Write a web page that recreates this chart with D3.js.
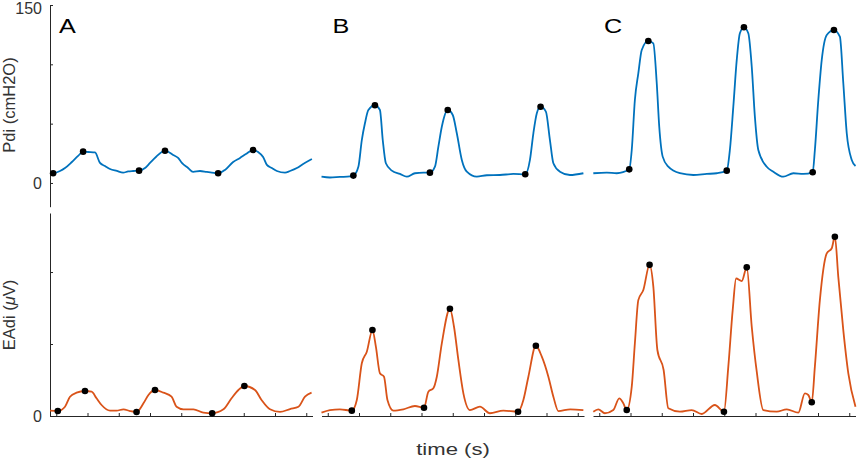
<!DOCTYPE html>
<html>
<head>
<meta charset="utf-8">
<script src="https://cdn.jsdelivr.net/npm/d3@7"></script>
<style>
    body { margin: 0; background: #fff; }
    svg { display: block; font-family: "Liberation Sans", Arial, sans-serif; }
    .axis path, .axis line { stroke: #262626; stroke-width: 1; }
    .axis text { fill: #333; font-size: 16px; }
</style>
</head>
<body>
<svg id="chart" width="861" height="464"></svg>
<script>
// ---- data: [time (s), value] ----
const panels = ["A", "B", "C"];
const timeTicks = [0, 1, 2, 3, 4, 5, 6, 7, 8];
const pdiTicks = [0, 50, 100, 150];
const pdiTickLabels = ["0", "", "", "150"];
const eadiTicks = [0, 10, 20];
const eadiTickLabels = ["0", "", ""];

const pdiA = [[-0.2,8.0],[-0.1,8.2],[0.12,10.1],[0.28,12.6],[0.5,17.7],[0.7,22.8],[0.86,26.4],[1.02,26.1],[1.24,25.7],
    [1.4,16.9],[1.56,14.3],[1.72,11.8],[1.94,10.1],[2.14,8.7],[2.3,9.7],[2.46,10.1],[2.65,10.4],[2.84,12.6],[3.0,16.9],
    [3.19,21.9],[3.48,27.2],[3.74,23.6],[3.9,21.1],[4.02,16.9],[4.22,12.6],[4.38,9.3],[4.6,10.1],[4.82,9.3],[4.98,8.8],
    [5.18,8.2],[5.4,11.0],[5.66,17.7],[5.88,21.1],[6.07,24.4],[6.3,27.8],[6.46,26.1],[6.62,21.9],[6.74,15.2],[6.9,12.6],
    [7.06,10.1],[7.32,8.7],[7.48,10.1],[7.7,12.6],[7.9,16.0],[8.18,20.2]];
const pdiB = [[-0.2,5.3],[0.07,4.6],[0.39,5.1],[0.71,5.5],[0.82,6.2],[0.98,13.7],[1.09,36.2],[1.19,50.3],[1.30,61.5],
    [1.51,65.5],[1.67,61.5],[1.76,36.2],[1.86,16.6],[2.05,10.4],[2.31,7.6],[2.53,5.3],[2.79,8.2],[3.06,8.7],[3.27,8.7],
    [3.43,13.7],[3.54,30.6],[3.65,47.4],[3.84,61.5],[4.0,57.3],[4.13,41.9],[4.29,19.4],[4.45,9.5],[4.77,5.3],[5.09,6.5],
    [5.51,6.7],[5.94,7.6],[6.32,7.3],[6.47,19.4],[6.58,41.9],[6.69,58.7],[6.81,64.3],[6.98,60.1],[7.11,36.2],[7.22,16.6],
    [7.43,9.5],[7.75,6.7],[8.18,8.2]];
const pdiC = [[-0.19,8.2],[0.24,8.7],[0.56,8.2],[0.96,11.5],[1.04,27.8],[1.14,69.9],[1.25,92.4],[1.36,112.1],[1.57,119.7],
    [1.73,117.7],[1.84,84.0],[1.92,47.4],[2.03,22.2],[2.21,13.7],[2.58,8.2],[3.01,6.7],[3.44,7.6],[3.76,8.2],[4.08,10.4],
    [4.18,27.8],[4.29,64.3],[4.40,103.7],[4.50,126.2],[4.63,131.2],[4.77,126.2],[4.88,98.0],[4.98,55.9],[5.09,27.8],
    [5.36,13.7],[5.57,9.5],[5.89,5.3],[6.21,8.2],[6.53,7.6],[6.83,9.0],[6.90,27.8],[7.01,69.9],[7.12,103.7],[7.28,124.7],
    [7.51,128.9],[7.70,123.3],[7.81,84.0],[7.92,41.9],[8.08,19.4],[8.2,14.3]];

const eadiA = [[-0.2,0.74],[0.05,0.69],[0.28,1.29],[0.44,2.68],[0.65,3.24],[0.92,3.47],[1.13,3.38],[1.29,2.46],[1.45,1.53],
    [1.72,0.74],[1.93,0.74],[2.15,0.93],[2.36,0.69],[2.57,0.56],[2.79,1.76],[2.95,2.92],[3.16,3.61],[3.43,3.24],[3.69,2.68],
    [3.85,1.29],[4.07,0.93],[4.39,0.93],[4.71,0.46],[4.99,0.38],[5.35,0.93],[5.61,2.46],[5.83,3.61],[6.02,4.17],[6.36,3.61],
    [6.57,2.22],[6.84,0.93],[7.16,0.56],[7.48,0.97],[7.75,1.29],[7.96,2.68],[8.17,3.24]];
const eadiB = [[-0.2,0.46],[0.07,0.83],[0.39,0.93],[0.77,0.74],[0.93,2.22],[1.09,7.32],[1.25,8.93],[1.43,11.94],[1.54,9.63],
    [1.67,5.93],[1.80,5.46],[1.91,2.22],[2.10,0.74],[2.42,0.93],[2.79,1.39],[3.08,1.15],[3.22,3.38],[3.38,3.85],[3.49,5.46],
    [3.65,10.1],[3.91,14.9],[4.04,12.4],[4.18,7.78],[4.34,3.15],[4.55,0.83],[4.87,1.29],[5.19,0.38],[5.62,0.74],[6.09,0.60],
    [6.26,2.22],[6.42,5.46],[6.66,9.76],[6.85,8.24],[7.06,5.46],[7.22,2.68],[7.38,0.69],[7.76,0.93],[8.18,0.83]];
const eadiC = [[-0.19,0.60],[-0.03,0.93],[0.18,0.38],[0.45,0.83],[0.64,2.46],[0.77,1.76],[0.88,0.83],[1.04,4.07],[1.14,10.1],
    [1.25,16.1],[1.41,17.5],[1.61,21.0],[1.73,18.0],[1.86,9.17],[2.06,6.39],[2.21,1.07],[2.58,0.60],[2.96,0.83],[3.28,0.28],
    [3.70,1.53],[3.99,0.60],[4.13,6.85],[4.27,14.7],[4.38,19.1],[4.56,18.75],[4.72,20.65],[4.88,12.4],[5.04,6.15],[5.25,0.83],
    [5.68,0.60],[6.00,0.93],[6.37,0.46],[6.58,3.15],[6.69,2.92],[6.80,1.90],[6.90,6.85],[7.06,16.1],[7.28,22.6],[7.44,23.3],
    [7.54,24.9],[7.65,19.3],[7.81,11.9],[7.97,5.93],[8.2,1.29]];

// onset / peak markers
const pdiDotsA = [[-0.1,8.2],[0.86,26.4],[2.65,10.4],[3.48,27.2],[5.18,8.2],[6.3,27.8]];
const pdiDotsB = [[0.82,6.2],[1.51,65.5],[3.27,8.7],[3.84,61.5],[6.32,7.3],[6.81,64.3]];
const pdiDotsC = [[0.96,11.5],[1.57,119.7],[4.08,10.4],[4.63,131.2],[6.83,9.0],[7.51,128.9]];
const eadiDotsA = [[0.05,0.69],[0.92,3.47],[2.57,0.56],[3.16,3.61],[4.99,0.38],[6.02,4.17]];
const eadiDotsB = [[0.77,0.74],[1.43,11.94],[3.08,1.15],[3.91,14.9],[6.09,0.60],[6.66,9.76]];
const eadiDotsC = [[0.88,0.83],[1.61,21.0],[3.99,0.60],[4.72,20.65],[6.80,1.90],[7.54,24.9]];

const pdiSeries = [pdiA, pdiB, pdiC];
const eadiSeries = [eadiA, eadiB, eadiC];
const pdiDots = [pdiDotsA, pdiDotsB, pdiDotsC];
const eadiDots = [eadiDotsA, eadiDotsB, eadiDotsC];

// ---- layout ----
const svg = d3.select("#chart");
const axisX = 50;
const panelW = 262.5, panelGap = 9;
const blue = "#0072BD", orange = "#D95319";

const yPdi = d3.scaleLinear().domain([-20, 150]).range([206.7, 5]);
const yEadi = d3.scaleLinear().domain([0, 28.2]).range([416, 213]);

// y axes
let pdiAxis = svg.append("g").attr("class", "axis")
    .attr("transform", "translate(" + axisX + ",0)")
    .call(d3.axisLeft(yPdi).tickValues(pdiTicks).tickSizeInner(-3).tickSizeOuter(0).tickPadding(8)
        .tickFormat((d, i) => pdiTickLabels[i]));
// keep the top label inside the picture
pdiAxis.selectAll(".tick text").filter(d => d === 150).attr("dy", "0.55em");

svg.append("g").attr("class", "axis")
    .attr("transform", "translate(" + axisX + ",0)")
    .call(d3.axisLeft(yEadi).tickValues(eadiTicks).tickSizeInner(-3).tickSizeOuter(0).tickPadding(8)
        .tickFormat((d, i) => eadiTickLabels[i]));

panels.forEach(function (name, i) {
    let x0 = axisX + i * (panelW + panelGap);
    let x = d3.scaleLinear().domain([-0.2, 8.2]).range([x0, x0 + panelW]);

    // time axis under the EAdi traces
    svg.append("g").attr("class", "axis")
        .attr("transform", "translate(0," + yEadi(0) + ")")
        .call(d3.axisBottom(x).tickValues(timeTicks).tickSizeInner(-3).tickSizeOuter(0).tickFormat(""));

    let linePdi = d3.line().x(d => x(d[0])).y(d => yPdi(d[1])).curve(d3.curveMonotoneX);
    let lineEadi = d3.line().x(d => x(d[0])).y(d => yEadi(d[1])).curve(d3.curveMonotoneX);

    svg.append("path").datum(pdiSeries[i])
        .attr("d", linePdi).attr("fill", "none")
        .attr("stroke", blue).attr("stroke-width", 1.8).attr("stroke-linejoin", "round");
    svg.append("path").datum(eadiSeries[i])
        .attr("d", lineEadi).attr("fill", "none")
        .attr("stroke", orange).attr("stroke-width", 1.8).attr("stroke-linejoin", "round");

    svg.append("g").selectAll("circle").data(pdiDots[i]).enter().append("circle")
        .attr("cx", d => x(d[0])).attr("cy", d => yPdi(d[1])).attr("r", 3.3).attr("fill", "#000");
    svg.append("g").selectAll("circle").data(eadiDots[i]).enter().append("circle")
        .attr("cx", d => x(d[0])).attr("cy", d => yEadi(d[1])).attr("r", 3.3).attr("fill", "#000");

    // panel letter
    svg.append("text")
        .attr("transform", "translate(" + (x0 + 9 + (i === 0 ? 0 : 2)) + ",33) scale(1.2,1)")
        .style("font-size", "21px").style("fill", "#000")
        .text(name);
});

// axis titles
svg.append("text")
    .attr("transform", "translate(15,105) rotate(-90)")
    .attr("text-anchor", "middle").style("font-size", "16.5px").style("fill", "#333")
    .text("Pdi (cmH2O)");
let eadiLabel = svg.append("text")
    .attr("transform", "translate(15,315) rotate(-90)")
    .attr("text-anchor", "middle").style("font-size", "16.5px").style("fill", "#333");
eadiLabel.append("tspan").text("EAdi (");
eadiLabel.append("tspan").style("font-style", "italic").text("μ");
eadiLabel.append("tspan").text("V)");

svg.append("text")
    .attr("transform", "translate(453,454.5) scale(1.3,1)")
    .attr("text-anchor", "middle").style("font-size", "17px").style("fill", "#333")
    .text("time (s)");
</script>
</body>
</html>
